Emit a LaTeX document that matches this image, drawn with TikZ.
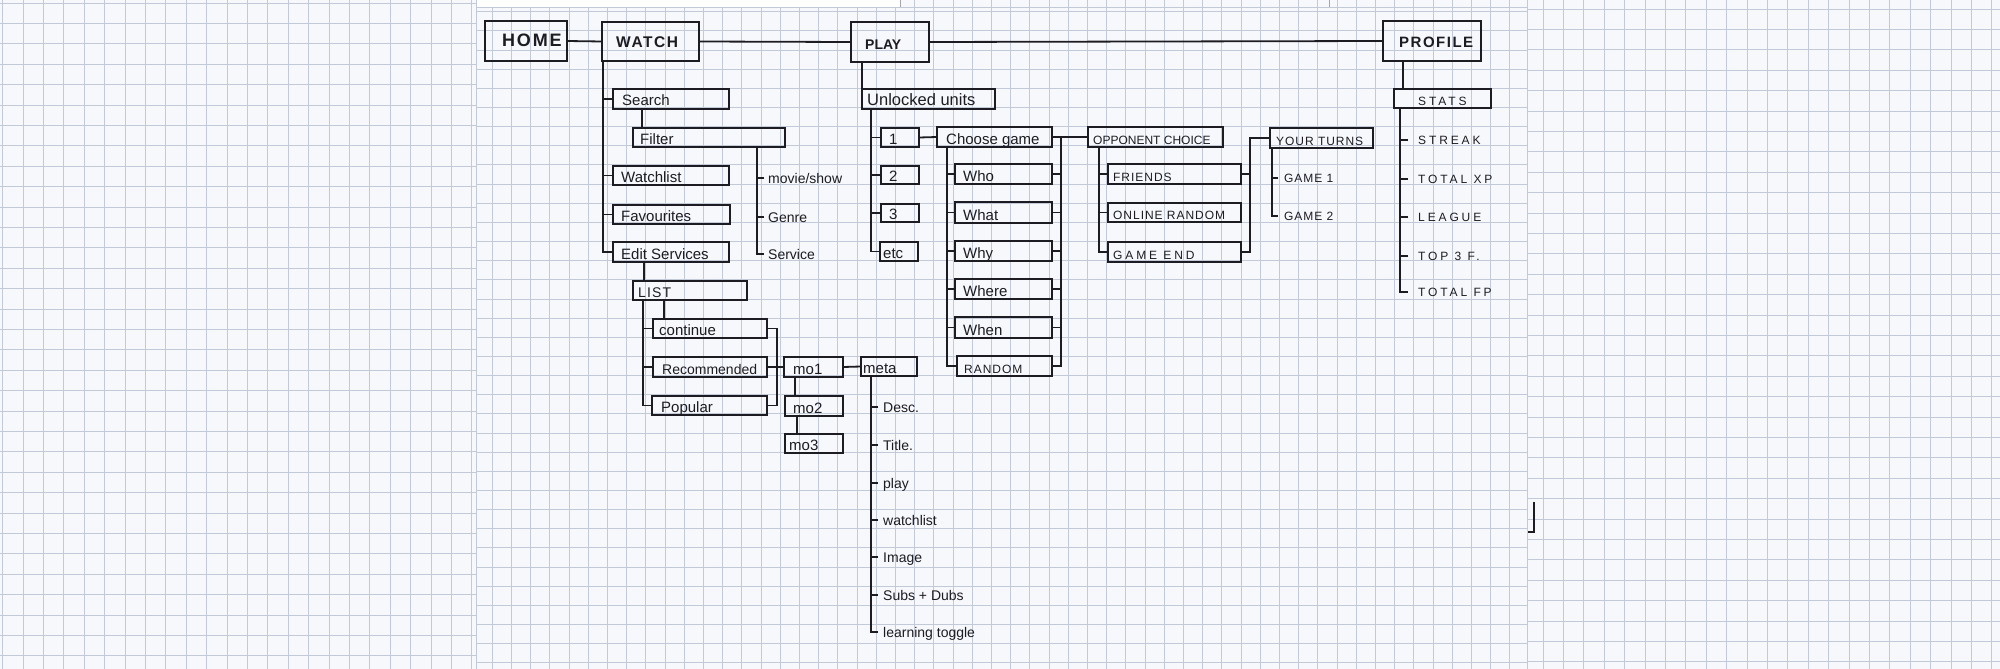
\documentclass[tikz,border=0pt]{standalone}
\usepackage{fontspec}
\setmainfont{Liberation Sans}
\newfontfamily\capsA[LetterSpace=8]{Liberation Sans}
\newfontfamily\capsB[LetterSpace=24]{Liberation Sans}
\newfontfamily\headfont[LetterSpace=10]{Liberation Sans}
\definecolor{ink}{RGB}{28,28,34}
\definecolor{paper}{RGB}{247,248,251}
\definecolor{gridc}{RGB}{194,201,216}
\newcommand\bxt[9]{%
  \node[bxs,anchor=north west,minimum width={#4-#2},minimum height={#5-#3},#6] (#1) at (#2,#3) {};
  \node[anchor=base west,inner sep=0pt,text=ink,#7] (#1-t) at (#8,{#5-3}) {#9};
}
\begin{document}
\begin{tikzpicture}[x=1pt,y=-1pt,
  bxs/.style={draw=ink,line width=2pt,inner sep=0pt,outer sep=0pt},
  mainb/.style={line width=2.8pt},
  conn/.style={draw=ink,line width=1.8pt},
  gridl/.style={draw=gridc,line width=0.9pt},
  txt/.style={font=\fontsize{15}{18}\selectfont},
  capA/.style={font=\capsA\fontsize{12}{14}\selectfont},
  capN/.style={font=\fontsize{12}{14}\selectfont},
  capB/.style={font=\capsB\fontsize{12}{14}\selectfont},
  head/.style={font=\headfont\bfseries\fontsize{15}{18}\selectfont,anchor=base west,inner sep=0pt,text=ink},
  lbl/.style={anchor=west,inner xsep=5pt,inner ysep=0pt,text height=10pt,text depth=0pt,text=ink,font=\fontsize{14}{17}\selectfont},
  lblc/.style={anchor=west,inner xsep=10pt,inner ysep=0pt,text height=8.5pt,text depth=0pt,text=ink,font=\capsB\fontsize{12}{14}\selectfont},
  lbla/.style={anchor=west,inner xsep=6pt,inner ysep=0pt,text height=8.5pt,text depth=0pt,text=ink,font=\capsA\fontsize{12}{14}\selectfont}
]
\useasboundingbox (0,0) rectangle (2000,669);
\fill[paper] (0,0) rectangle (2000,669);
% ---------- grid paper ----------
\begin{scope}
  \clip (0,0) rectangle (476,669);
  \foreach \i in {0,...,23} \draw[gridl] ({2.7+20.4*\i},0) -- ++(0,669);
  \foreach \j in {0,...,33} \draw[gridl] (0,{3+20.4*\j}) -- ++(476,0);
\end{scope}
\begin{scope}
  \clip (476,0) rectangle (1527,669);
  \foreach \i in {-20,...,35} \draw[gridl] ({857+19.2*\i},0) -- ++(0,669);
  \foreach \j in {0,...,35} \draw[gridl] (476,{11.7+19.15*\j}) -- ++(1051,0);
\end{scope}
\begin{scope}
  \clip (1527,0) rectangle (2000,669);
  \foreach \i in {-1,...,23} \draw[gridl] ({1543+20.4*\i},0) -- ++(0,669);
  \foreach \j in {0,...,33} \draw[gridl] (1527,{9+20.4*\j}) -- ++(473,0);
\end{scope}
\fill[white] (476,0) rectangle (900,7);
\draw[gridc,line width=0.8pt] (476,7) -- (1527,7);
\draw[gridc,line width=1pt] (476,0) -- (476,669);
\draw[gridc,line width=1pt] (1527,0) -- (1527,669);
\draw[gray!70,line width=1pt] (900,0) -- (900,7);
\draw[gray!70,line width=1pt] (1329,0) -- (1329,7);
% ---------- top level ----------
\node[bxs,mainb,anchor=north west,minimum width=82,minimum height=40] (home) at (485,21) {};
\node[head,font=\headfont\bfseries\fontsize{18}{20}\selectfont] (home-t) at (502,47) {HOME};
\node[bxs,mainb,anchor=north west,minimum width=97,minimum height=39] (watch) at (602,22) {};
\node[head,font=\headfont\bfseries\fontsize{15.5}{18}\selectfont] (watch-t) at (616,48) {WATCH};
\node[bxs,mainb,anchor=north west,minimum width=78,minimum height=40] (play) at (851,22) {};
\node[head,font=\bfseries\fontsize{14}{17}\selectfont] (play-t) at (865,49) {PLAY};
\node[bxs,mainb,anchor=north west,minimum width=98,minimum height=40] (profile) at (1383,21) {};
\node[head] (profile-t) at (1399,48) {PROFILE};
\draw[conn] (home.east) -- (watch.west);
\draw[conn] (watch.east) -- (play.west);
\draw[conn] (play.east) -- (profile.west);
% ---------- WATCH ----------
\bxt{search}{613}{89}{729}{109}{}{txt}{622}{Search}
\bxt{filter}{633}{128}{785}{147}{}{txt}{640}{Filter}
\bxt{wlist}{613}{166}{729}{185}{}{txt}{621}{Watchlist}
\bxt{fav}{613}{205}{730}{224}{}{txt}{621}{Favourites}
\bxt{edit}{613}{242}{729}{262}{}{txt}{621}{Edit Services}
\bxt{list}{633}{281}{747}{300}{}{font=\capsA\fontsize{14}{17}\selectfont}{638}{LIST}
\bxt{cont}{653}{319}{767}{338}{}{txt}{659}{continue}
\bxt{rec}{653}{357}{767}{377}{}{font=\fontsize{14}{17}\selectfont}{662}{Recommended}
\bxt{pop}{652}{396}{767}{415}{}{txt}{661}{Popular}
\bxt{mo1}{784}{357}{843}{377}{}{txt}{793}{mo1}
\bxt{mo2}{785}{396}{843}{416}{}{txt}{793}{mo2}
\bxt{mo3}{785}{434}{843}{453}{}{txt}{789}{mo3}
\bxt{meta}{861}{357}{917}{376}{}{txt}{863}{meta}
\coordinate (wtr) at (603,61);
\draw[conn] (wtr) |- (edit.west);
\foreach \n in {search,wlist,fav} \draw[conn] (\n.west) -- (\n.west -| wtr);
\draw[conn] ([xshift=9pt]filter.north west) -- ([xshift=9pt]filter.north west |- search.south);
\node[lbl,inner xsep=4pt] (movie) at (764,178) {movie/show};
\node[lbl,inner xsep=4pt] (genre) at (764,217) {Genre};
\node[lbl,inner xsep=4pt] (service) at (764,254) {Service};
\coordinate (ftr) at (757,147);
\draw[conn] (ftr) |- (service.west);
\foreach \n in {movie,genre} \draw[conn] (\n.west) -- (\n.west -| ftr);
\draw[conn] ([xshift=11pt]list.north west) -- ([xshift=11pt]list.north west |- edit.south);
\coordinate (ltr) at (643,300);
\draw[conn] (ltr) |- (pop.west);
\foreach \n in {cont,rec} \draw[conn] (\n.west) -- (\n.west -| ltr);
\draw[conn] ([xshift=11pt]cont.north west) -- ([xshift=11pt]cont.north west |- list.south);
\coordinate (rbr) at (777,367);
\draw[conn] (cont.east) -- (cont.east -| rbr) |- (pop.east);
\draw[conn] (rec.east) -- (mo1.west);
\draw[conn] ([xshift=11pt]mo1.south west) -- ([xshift=11pt]mo1.south west |- mo2.north);
\draw[conn] ([xshift=12pt]mo2.south west) -- ([xshift=12pt]mo2.south west |- mo3.north);
\draw[conn] (mo1.east) -- (meta.west);
\node[lbl] (desc) at (878,407) {Desc.};
\node[lbl] (title) at (878,445) {Title.};
\node[lbl] (playl) at (878,483) {play};
\node[lbl] (wl2) at (878,520) {watchlist};
\node[lbl] (image) at (878,557) {Image};
\node[lbl] (subs) at (878,595) {Subs + Dubs};
\node[lbl] (learn) at (878,632) {learning toggle};
\coordinate (mtr) at (871,376);
\draw[conn] (mtr) |- (learn.west);
\foreach \n in {desc,title,playl,wl2,image,subs} \draw[conn] (\n.west) -- (\n.west -| mtr);
% ---------- PLAY ----------
\bxt{unl}{862}{89}{995}{109}{}{font=\fontsize{16.5}{19}\selectfont}{867}{Unlocked units}
\bxt{b1}{881}{128}{919}{147}{}{txt}{889}{1}
\bxt{b2}{881}{166}{919}{184}{}{txt}{889}{2}
\bxt{b3}{881}{204}{919}{222}{}{txt}{889}{3}
\bxt{betc}{880}{242}{918}{261}{}{txt}{883}{etc}
\bxt{choose}{937}{127}{1052}{147}{}{txt}{946}{Choose game}
\bxt{who}{955}{164}{1052}{184}{}{txt}{963}{Who}
\bxt{what}{955}{202}{1052}{223}{}{txt}{963}{What}
\bxt{why}{955}{241}{1052}{261}{}{txt}{963}{Why}
\bxt{where}{955}{279}{1052}{299}{}{txt}{963}{Where}
\bxt{when}{955}{317}{1052}{338}{}{txt}{963}{When}
\bxt{rnd}{957}{356}{1052}{376}{}{capA}{964}{RANDOM}
\bxt{opp}{1088}{127}{1223}{147}{}{capN}{1093}{OPPONENT CHOICE}
\bxt{friends}{1108}{164}{1241}{184}{}{capA}{1113}{FRIENDS}
\bxt{online}{1108}{203}{1241}{222}{}{capA}{1113}{ONLINE RANDOM}
\bxt{gend}{1108}{242}{1241}{262}{}{capB}{1113}{GAME END}
\bxt{yt}{1270}{128}{1373}{148}{}{capA}{1276}{YOUR TURNS}
\draw[conn] ([xshift=11pt]play.south west) -- ([xshift=11pt]play.south west |- unl.north);
\coordinate (utr) at (871,109);
\draw[conn] (utr) |- (betc.west);
\foreach \n in {b1,b2,b3} \draw[conn] (\n.west) -- (\n.west -| utr);
\draw[conn] (b1.east) -- (choose.west);
\coordinate (ctr) at (947,147);
\draw[conn] (ctr) |- (rnd.west);
\foreach \n in {who,what,why,where,when} \draw[conn] (\n.west) -- (\n.west -| ctr);
\coordinate (cbr) at (1061,137);
\draw[conn] (choose.east) -- (choose.east -| cbr) |- (rnd.east);
\foreach \n in {who,what,why,where,when} \draw[conn] (\n.east) -- (\n.east -| cbr);
\draw[conn] (choose.east -| cbr) -- (opp.west);
\coordinate (otr) at (1099,147);
\draw[conn] (otr) |- (gend.west);
\foreach \n in {friends,online} \draw[conn] (\n.west) -- (\n.west -| otr);
\coordinate (obr) at (1250,174);
\draw[conn] (yt.west) -- (yt.west -| obr) |- (gend.east);
\draw[conn] (friends.east) -- (friends.east -| obr);
\node[lbla] (game1) at (1278,178) {GAME 1};
\node[lbla] (game2) at (1278,216) {GAME 2};
\coordinate (ytr) at (1272,148);
\draw[conn] (ytr) |- (game2.west);
\draw[conn] (game1.west) -- (game1.west -| ytr);
% ---------- PROFILE ----------
\bxt{stats}{1394}{89}{1491}{108}{}{capB}{1418}{STATS}
\draw[conn] ([xshift=20pt]profile.south west) -- ([xshift=20pt]profile.south west |- stats.north);
\node[lblc] (streak) at (1408,140) {STREAK};
\node[lblc] (txp) at (1408,179) {TOTAL XP};
\node[lblc] (league) at (1408,217) {LEAGUE};
\node[lblc] (top3) at (1408,256) {TOP 3 F.};
\node[lblc] (tfp) at (1408,292) {TOTAL FP};
\coordinate (str) at (1400,108);
\draw[conn] (str) |- (tfp.west);
\foreach \n in {streak,txp,league,top3} \draw[conn] (\n.west) -- (\n.west -| str);
% stray mark
\draw[ink,line width=1.6pt] (1534,502) -- (1534,532) -- (1528,532);
\end{tikzpicture}
\end{document}
